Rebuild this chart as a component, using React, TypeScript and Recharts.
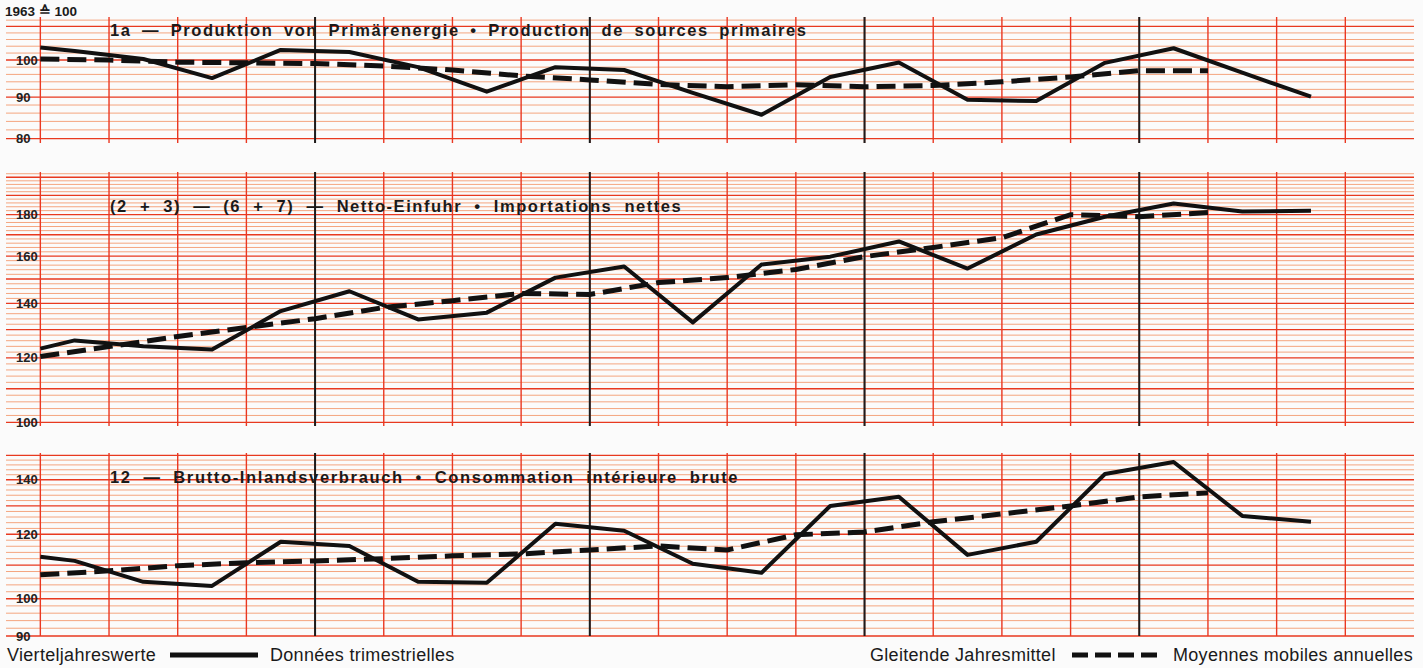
import { CartesianGrid, Line, LineChart, XAxis, YAxis } from "recharts";

// x positions in quarters: first point sits on the left frame, the rest mid-quarter
const quarterPoints = [0, 0.5, 1.5, 2.5, 3.5, 4.5, 5.5, 6.5, 7.5, 8.5, 9.5, 10.5, 11.5, 12.5, 13.5, 14.5, 15.5, 16.5, 17.5, 18.5];
// moving annual averages sit on the quarter boundaries
const averagePoints = [0, 1, 2, 3, 4, 5, 6, 7, 8, 9, 10, 11, 12, 13, 14, 15, 16, 17];
const quarterLines = [0, 1, 2, 3, 4, 5, 6, 7, 8, 9, 10, 11, 12, 13, 14, 15, 16, 17, 18, 19];
const yearLines = [4, 8, 12, 16];

// 1a — production of primary energy
const productionQuarterly = [103.6, 102.6, 100.3, 95.0, 102.9, 102.3, 98.0, 91.4, 98.0, 97.2, 91.1, 85.6, 95.3, 99.3, 89.3, 89.0, 99.2, 103.4, 96.5, 90.1];
const productionAnnual = [100.3, 100.0, 99.4, 99.2, 99.0, 98.3, 97.2, 95.6, 94.5, 93.3, 92.7, 93.2, 92.7, 93.0, 94.0, 95.3, 97.0, 97.0];
const productionTicks = [80, 90, 100];

// (2+3)-(6+7) — net imports
const importQuarterly = [123.2, 126.1, 124.0, 122.9, 137.0, 144.9, 133.8, 136.4, 150.6, 155.4, 132.7, 156.3, 159.8, 166.8, 154.5, 170.1, 178.9, 185.7, 181.5, 181.9];
const importAnnual = [120.5, 123.9, 127.5, 130.8, 134.1, 138.4, 141.1, 144.0, 143.6, 148.5, 150.6, 154.1, 159.8, 164.0, 168.6, 179.9, 178.9, 181.0];
const importTicks = [100, 120, 140, 160, 180];

// 12 — gross inland consumption
const consumptionQuarterly = [112.6, 111.3, 104.9, 103.7, 117.5, 116.1, 104.9, 104.6, 123.6, 121.2, 110.4, 107.6, 130.0, 133.4, 113.2, 117.5, 142.3, 147.2, 126.4, 124.3];
const consumptionAnnual = [107.0, 108.2, 109.8, 110.7, 111.3, 112.0, 112.9, 113.5, 114.8, 116.1, 114.8, 119.8, 120.8, 124.3, 127.1, 130.0, 133.4, 134.9];
const consumptionTicks = [90, 100, 120, 140];

const FONT = '"Liberation Sans", Arial, Helvetica, sans-serif';
const PAD = 12;

function gridValues(domain: [number, number], step: number) {
  const out: number[] = [];
  for (let v = Math.ceil(domain[0] / step) * step; v <= domain[1]; v += step) out.push(v);
  return out;
}

// map grid values through the chart's own y scale
function rowsAt(values: number[]) {
  return (props: any) => {
    const s = props?.yAxis?.scale;
    if (typeof s === "function") return values.map((v) => s(v));
    if (s && typeof s.map === "function") return values.map((v) => s.map(v));
    return [];
  };
}

function TickLabel(props: any) {
  const { x, y, payload } = props;
  return (
    <text x={x} y={y} dy={4.5} textAnchor="start" fontSize={13} fontWeight={700} fill="#222" fontFamily={FONT}>
      {payload.value}
    </text>
  );
}

type PanelProps = {
  top: number;
  height: number;
  domain: [number, number];
  ticks: number[];
  quarterly: number[];
  annual: number[];
};

function Panel({ top, height, domain, ticks, quarterly, annual }: PanelProps) {
  const quarterlyData = quarterPoints.map((q, i) => ({ q, v: quarterly[i] }));
  const annualData = averagePoints.map((q, i) => ({ q, v: annual[i] }));
  const minor = gridValues(domain, 2).filter((v) => v % 10 !== 0);
  const major = gridValues(domain, 10);
  return (
    <div style={{ position: "absolute", left: 0, top: top - PAD }}>
      <LineChart width={1423} height={height + PAD * 2} margin={{ top: PAD, right: 9, bottom: PAD, left: 6 }}>
        <XAxis type="number" dataKey="q" domain={[-0.5, 20]} allowDataOverflow hide />
        <YAxis
          scale="log"
          domain={domain}
          allowDataOverflow
          ticks={ticks}
          interval={0}
          mirror
          width={1}
          axisLine={false}
          tickLine={false}
          tickSize={0}
          tickMargin={10}
          tick={<TickLabel />}
        />
        <CartesianGrid vertical={false} horizontalCoordinatesGenerator={rowsAt(minor)} stroke="#f4a57f" strokeWidth={1} />
        <CartesianGrid vertical={false} horizontalCoordinatesGenerator={rowsAt(major)} stroke="#e8391f" strokeWidth={1.3} />
        <CartesianGrid horizontal={false} verticalValues={quarterLines} stroke="#ea3822" strokeWidth={1.4} />
        <CartesianGrid horizontal={false} verticalValues={yearLines} stroke="#1c1c1c" strokeWidth={2} />
        <Line
          data={annualData}
          dataKey="v"
          type="linear"
          stroke="#111"
          strokeWidth={5}
          strokeDasharray="19 8"
          dot={false}
          isAnimationActive={false}
        />
        <Line
          data={quarterlyData}
          dataKey="v"
          type="linear"
          stroke="#111"
          strokeWidth={4}
          strokeLinejoin="round"
          dot={false}
          isAnimationActive={false}
        />
      </LineChart>
    </div>
  );
}

const titleStyle = {
  position: "absolute" as const,
  left: 110,
  fontFamily: FONT,
  fontWeight: 700,
  fontSize: 16.5,
  letterSpacing: 1.55,
  wordSpacing: 4.5,
  color: "#1a1a1a",
  lineHeight: "20px",
  whiteSpace: "nowrap" as const,
};

const legendText = {
  fontFamily: FONT,
  fontSize: 18,
  letterSpacing: 0.3,
  color: "#1a1a1a",
  position: "absolute" as const,
  top: 644,
  lineHeight: "22px",
};

export default function App() {
  return (
    <div style={{ position: "absolute", left: 0, top: 0, width: 1423, height: 668, background: "#fbfbfb", overflow: "hidden" }}>
      <div style={{ position: "absolute", left: 5, top: 3, fontFamily: FONT, fontWeight: 700, fontSize: 13.5, color: "#1a1a1a" }}>
        1963 ≙ 100
      </div>
      <Panel top={17} height={126} domain={[79, 113]} ticks={productionTicks} quarterly={productionQuarterly} annual={productionAnnual} />
      <Panel top={172} height={254} domain={[99, 203]} ticks={importTicks} quarterly={importQuarterly} annual={importAnnual} />
      <Panel top={453} height={183} domain={[90, 151]} ticks={consumptionTicks} quarterly={consumptionQuarterly} annual={consumptionAnnual} />

      <div style={{ ...titleStyle, top: 20 }}>1a — Produktion von Primärenergie • Production de sources primaires</div>
      <div style={{ ...titleStyle, top: 196, wordSpacing: 6 }}>(2 + 3) — (6 + 7) — Netto-Einfuhr • Importations nettes</div>
      <div style={{ ...titleStyle, top: 467, letterSpacing: 1.65, wordSpacing: 5.5 }}>12 — Brutto-Inlandsverbrauch • Consommation intérieure brute</div>

      <div style={{ ...legendText, left: 7 }}>Vierteljahreswerte</div>
      <svg style={{ position: "absolute", left: 168, top: 650 }} width={92} height={10}>
        <line x1={2} y1={5} x2={90} y2={5} stroke="#111" strokeWidth={5} />
      </svg>
      <div style={{ ...legendText, left: 270 }}>Données trimestrielles</div>
      <div style={{ ...legendText, left: 870 }}>Gleitende Jahresmittel</div>
      <svg style={{ position: "absolute", left: 1070, top: 650 }} width={92} height={10}>
        <line x1={2} y1={5} x2={90} y2={5} stroke="#111" strokeWidth={5} strokeDasharray="16 7" />
      </svg>
      <div style={{ ...legendText, left: 1173 }}>Moyennes mobiles annuelles</div>
    </div>
  );
}
